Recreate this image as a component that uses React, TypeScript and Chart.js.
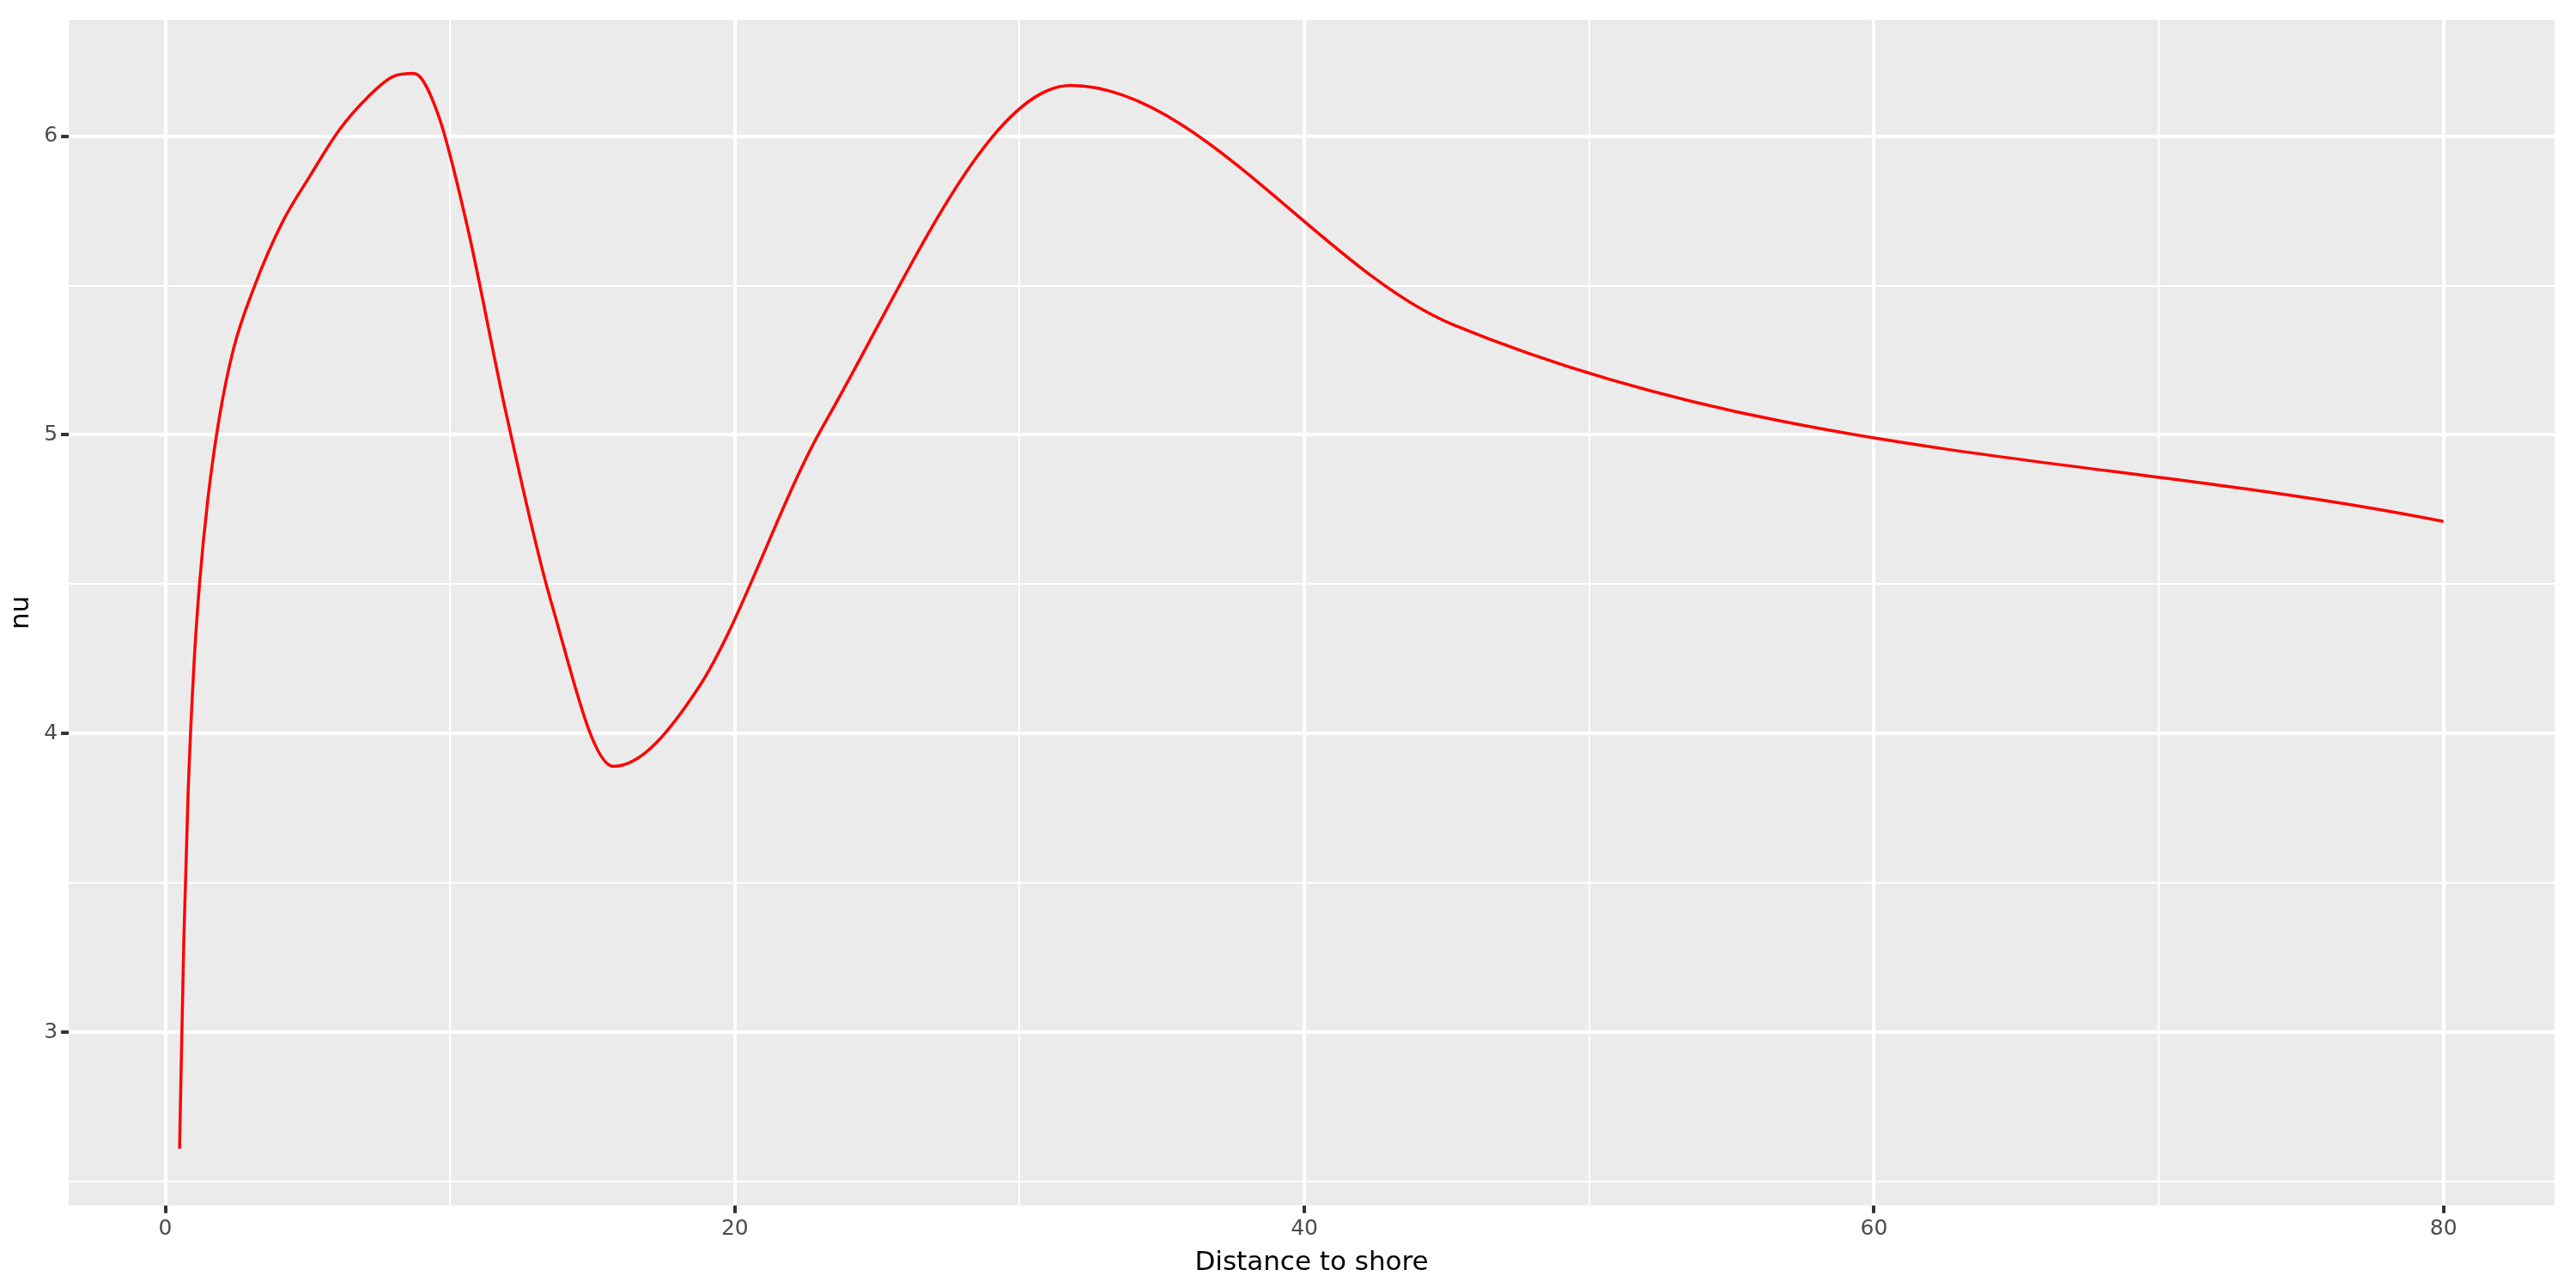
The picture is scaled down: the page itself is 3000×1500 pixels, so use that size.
import { useEffect, useRef } from "react";
import { Chart, registerables } from "chart.js";

Chart.register(...registerables);

// distance to shore vs nu
const distance = [0.5, 0.65, 0.8, 1.0, 1.2, 1.5, 1.9, 2.4, 3.1, 4.1, 5.1, 6.1, 7.1, 8.0, 8.73, 9.59, 10.6, 11.95, 13.55, 15.74, 18.7, 23.1, 31.8, 45.2, 80];
const nu = [2.61, 3.31, 3.8, 4.22, 4.5, 4.79, 5.06, 5.29, 5.49, 5.71, 5.87, 6.02, 6.13, 6.2, 6.21, 6.07, 5.7, 5.08, 4.44, 3.89, 4.15, 5.03, 6.17, 5.37, 4.71];
const xTicks = [0, 20, 40, 60, 80];
const yTicks = [3, 4, 5, 6];

const panelBg = {
  id: "panelBg",
  beforeDraw(chart: Chart) {
    const { ctx, chartArea: a } = chart;
    ctx.save();
    ctx.fillStyle = "#EBEBEB";
    ctx.fillRect(a.left, a.top, a.right - a.left, a.bottom - a.top);
    ctx.restore();
  },
};

const App = () => {
  const chartRef = useRef<HTMLCanvasElement | null>(null);

  useEffect(() => {
    document.body.style.margin = "0";
    if (!chartRef.current) return;
    const ctx = chartRef.current.getContext("2d");
    if (!ctx) return;

    const isMajor = (v: number, list: number[]) => list.some((t) => Math.abs(t - v) < 1e-6);

    const chart = new Chart(ctx, {
      type: "scatter",
      data: {
        datasets: [
          {
            data: distance.map((d, i) => ({ x: d, y: nu[i] })),
            showLine: true,
            borderColor: "#FF0000",
            borderWidth: 3.5,
            pointRadius: 0,
            tension: 0.3,
            cubicInterpolationMode: "monotone",
          },
        ],
      },
      options: {
        animation: false,
        responsive: false,
        layout: { padding: { top: 23, right: 25, left: 6, bottom: 10 } },
        plugins: { legend: { display: false }, tooltip: { enabled: false } },
        scales: {
          x: {
            type: "linear",
            min: -3.39,
            max: 83.9,
            border: { display: false },
            afterBuildTicks: (axis: any) => {
              axis.ticks = [0, 10, 20, 30, 40, 50, 60, 70, 80].map((v) => ({ value: v }));
            },
            grid: {
              color: "#FFFFFF",
              lineWidth: (c: any) => (isMajor(c.tick?.value, xTicks) ? 4 : 2),
              tickColor: (c: any) => (isMajor(c.tick?.value, xTicks) ? "#333333" : "rgba(0,0,0,0)"),
              tickLength: 9,
            },
            ticks: {
              color: "#4D4D4D",
              font: { family: "DejaVu Sans", size: 25 },
              callback: (v: any) => (isMajor(Number(v), xTicks) ? String(v) : ""),
              maxRotation: 0,
              padding: 4,
            },
            title: {
              display: true,
              text: "Distance to shore",
              color: "#000000",
              font: { family: "DejaVu Sans", size: 31 },
              padding: { top: 2, bottom: 0 },
            },
          },
          y: {
            type: "linear",
            min: 2.42,
            max: 6.39,
            border: { display: false },
            afterBuildTicks: (axis: any) => {
              axis.ticks = [2.5, 3, 3.5, 4, 4.5, 5, 5.5, 6].map((v) => ({ value: v }));
            },
            grid: {
              color: "#FFFFFF",
              lineWidth: (c: any) => (isMajor(c.tick?.value, yTicks) ? 4 : 2),
              tickColor: (c: any) => (isMajor(c.tick?.value, yTicks) ? "#333333" : "rgba(0,0,0,0)"),
              tickLength: 9,
            },
            ticks: {
              color: "#4D4D4D",
              font: { family: "DejaVu Sans", size: 25 },
              callback: (v: any) => (isMajor(Number(v), yTicks) ? String(v) : ""),
              padding: 4,
            },
            title: {
              display: true,
              text: "nu",
              color: "#000000",
              font: { family: "DejaVu Sans", size: 31 },
              padding: { top: 0, bottom: 4 },
            },
          },
        },
      },
      plugins: [panelBg],
    });

    return () => chart.destroy();
  }, []);

  return (
    <div style={{ width: 3000, height: 1500, background: "#FFFFFF" }}>
      <canvas ref={chartRef} width={3000} height={1500}></canvas>
    </div>
  );
};

export default App;
